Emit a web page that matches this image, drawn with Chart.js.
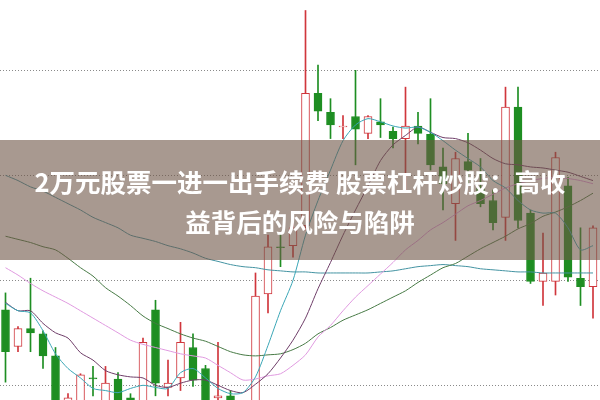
<!DOCTYPE html>
<html>
<head>
<meta charset="utf-8">
<script src="https://cdn.jsdelivr.net/npm/chart.js@4"></script>
<style>
  html, body { margin: 0; padding: 0; background: #fff; }
  #wrap { position: relative; width: 600px; height: 400px; overflow: hidden; }
  #kline { position: absolute; left: 0; top: 0; }
  #banner {
    position: absolute; left: 0; top: 140px; width: 600px; height: 120px;
    background: rgba(110, 85, 70, 0.6);
    color: #fff; text-align: center;
    font-family: "Noto Sans CJK SC", "Noto Sans", sans-serif;
    font-weight: 700; font-size: 25.5px; line-height: 40px;
    padding-top: 21px; box-sizing: border-box;
  }
</style>
</head>
<body>
<div id="wrap">
  <canvas id="kline" width="600" height="400"></canvas>
  <div id="banner">2万元股票一进一出手续费 股票杠杆炒股：高收<br>益背后的风险与陷阱</div>
</div>
<script>
// daily candles (price units, gridlines at 10/11/12/13)
const opens = [10.72, 10.37, 10.54, 10.49, 10.28, 9.78, 9.81, 10.07, 9.81, 10.06, 9.88, 9.81, 10.72, 9.98, 10.07, 10.36,
  10.16, 9.88, 9.90, 9.78, 9.81, 10.87, 11.32, 11.33, 11.52, 12.78, 12.60, 12.46, 12.56, 12.40, 12.51, 12.42,
  12.35, 12.47, 12.39, 12.08, 11.73, 12.13, 11.88, 11.76, 11.60, 12.65, 11.64, 10.99, 10.99, 11.90, 11.02, 10.94];
const closes = [10.32, 10.54, 10.50, 10.28, 9.81, 9.88, 10.10, 10.06, 10.02, 9.81, 9.78, 10.41, 10.02, 10.02, 10.41, 10.05,
  9.81, 9.90, 9.71, 9.70, 10.85, 11.32, 11.31, 11.50, 12.78, 12.61, 12.48, 12.47, 12.44, 12.56, 12.48, 12.35,
  12.47, 12.40, 12.10, 11.92, 12.16, 12.05, 11.73, 11.55, 12.65, 11.57, 10.99, 11.07, 12.17, 11.03, 10.94, 11.50];
const highs = [10.88, 10.56, 11.02, 10.52, 10.36, 9.92, 10.11, 10.18, 10.18, 10.12, 9.92, 10.45, 10.81, 10.24, 10.60, 10.49,
  10.19, 10.41, 9.95, 9.83, 11.07, 11.43, 11.45, 11.55, 13.57, 13.05, 12.73, 12.57, 13.00, 12.57, 12.73, 12.46,
  12.84, 12.60, 12.73, 12.26, 12.22, 12.40, 12.16, 11.86, 12.84, 12.84, 11.67, 11.45, 12.22, 11.98, 11.50, 11.52];
const lows = [10.03, 10.32, 10.32, 10.16, 9.76, 9.71, 9.76, 9.90, 9.76, 9.76, 9.71, 9.74, 9.90, 9.90, 9.95, 9.99,
  9.76, 9.81, 9.67, 9.62, 9.76, 10.69, 11.13, 11.22, 11.48, 12.52, 12.35, 12.35, 12.10, 12.35, 12.36, 12.26,
  11.86, 12.30, 12.05, 11.67, 11.38, 11.92, 11.70, 11.48, 11.38, 11.50, 10.97, 10.76, 10.86, 10.99, 10.76, 10.64];

// moving average lines
const ma5 = [10.78, 10.71, 10.69, 10.52, 10.30, 10.16, 10.07, 9.97, 9.95, 9.93, 9.97, 10.00, 9.98, 9.97, 10.12, 10.16,
  10.07, 9.97, 9.92, 9.93, 10.08, 10.38, 10.71, 11.00, 11.43, 11.76, 12.05, 12.33, 12.48, 12.54, 12.51, 12.47,
  12.45, 12.46, 12.41, 12.33, 12.24, 12.16, 12.08, 11.95, 11.88, 11.76, 11.67, 11.64, 11.64, 11.50, 11.29, 11.33];
const ma10 = [10.79, 10.71, 10.71, 10.59, 10.50, 10.45, 10.31, 10.24, 10.14, 10.10, 10.08, 10.07, 10.00, 9.98, 10.02, 10.05,
  10.05, 10.00, 9.95, 9.93, 10.01, 10.11, 10.26, 10.43, 10.64, 10.92, 11.17, 11.43, 11.67, 11.90, 12.14, 12.29,
  12.38, 12.46, 12.41, 12.36, 12.35, 12.31, 12.24, 12.16, 12.11, 12.10, 12.08, 12.07, 12.05, 12.03, 11.99, 11.95];
const ma20 = [11.12, 11.05, 10.97, 10.90, 10.84, 10.78, 10.71, 10.64, 10.57, 10.50, 10.43, 10.39, 10.36, 10.33, 10.30, 10.28,
  10.26, 10.19, 10.12, 10.05, 10.06, 10.09, 10.11, 10.19, 10.29, 10.46, 10.57, 10.71, 10.84, 10.95, 11.06, 11.17,
  11.29, 11.38, 11.48, 11.55, 11.63, 11.71, 11.76, 11.82, 11.88, 11.92, 11.95, 11.97, 11.98, 11.97, 11.95, 11.92];
const ma60 = [11.42, 11.39, 11.36, 11.32, 11.29, 11.21, 11.12, 11.04, 10.93, 10.85, 10.76, 10.66, 10.59, 10.54, 10.49, 10.45,
  10.42, 10.37, 10.32, 10.29, 10.28, 10.29, 10.30, 10.34, 10.40, 10.49, 10.55, 10.62, 10.67, 10.72, 10.78, 10.84,
  10.90, 10.98, 11.05, 11.12, 11.16, 11.23, 11.30, 11.36, 11.42, 11.49, 11.54, 11.61, 11.65, 11.70, 11.76, 11.83];
const ma120 = [12.00, 11.95, 11.89, 11.85, 11.79, 11.73, 11.67, 11.60, 11.55, 11.50, 11.43, 11.40, 11.37, 11.33, 11.30, 11.26,
  11.21, 11.18, 11.15, 11.13, 11.12, 11.10, 11.09, 11.08, 11.08, 11.07, 11.07, 11.07, 11.07, 11.07, 11.08, 11.09,
  11.11, 11.13, 11.14, 11.15, 11.14, 11.13, 11.11, 11.10, 11.09, 11.08, 11.08, 11.07, 11.07, 11.07, 11.07, 11.07];

const gridValues = [10, 11, 12, 13];

const RED = "#d0363c";
const GREEN = "#1e8e22";

const isUp = opens.map((o, i) => closes[i] >= o);

function points(values) {
  return values.map((v, i) => ({ x: i, y: v }));
}

function lineSet(values, color) {
  return {
    type: "line",
    data: points(values),
    borderColor: color,
    borderWidth: 1,
    pointRadius: 0,
    tension: 0.25,
    order: 0,
  };
}

const bodies = opens.map((o, i) => {
  let top = Math.max(o, closes[i]);
  let bottom = Math.min(o, closes[i]);
  if (top - bottom < 0.01) top = bottom + 0.01;
  return { x: i, y: [bottom, top] };
});
const wicks = opens.map((o, i) => ({ x: i, y: [lows[i], highs[i]] }));

new Chart(document.getElementById("kline"), {
  type: "bar",
  data: {
    datasets: [
      lineSet(ma5, "#3aa6b6"),
      lineSet(ma10, "#6e3d68"),
      lineSet(ma20, "#e09ae0"),
      lineSet(ma60, "#477a45"),
      lineSet(ma120, "#4393a2"),
      {
        data: bodies,
        grouped: false,
        barThickness: 8,
        backgroundColor: isUp.map((u) => (u ? "#ffffff" : GREEN)),
        borderColor: isUp.map((u) => (u ? RED : GREEN)),
        borderWidth: 1,
        borderSkipped: false,
        order: 1,
      },
      {
        data: wicks,
        grouped: false,
        barThickness: 1,
        backgroundColor: isUp.map((u) => (u ? RED : GREEN)),
        borderWidth: 0,
        order: 2,
      },
    ],
  },
  options: {
    responsive: false,
    animation: false,
    layout: { padding: 0 },
    plugins: { legend: { display: false }, tooltip: { enabled: false } },
    scales: {
      x: { type: "linear", min: -0.44, max: 47.56, offset: false, display: false },
      y: {
        min: 9.86,
        max: 13.67,
        afterBuildTicks: (axis) => {
          axis.ticks = gridValues.map((v) => ({ value: v }));
        },
        ticks: { display: false },
        grid: { color: "#8a8a8a", lineWidth: 1, drawTicks: false },
        border: { display: false, dash: [1, 2] },
      },
    },
  },
});
</script>
</body>
</html>
